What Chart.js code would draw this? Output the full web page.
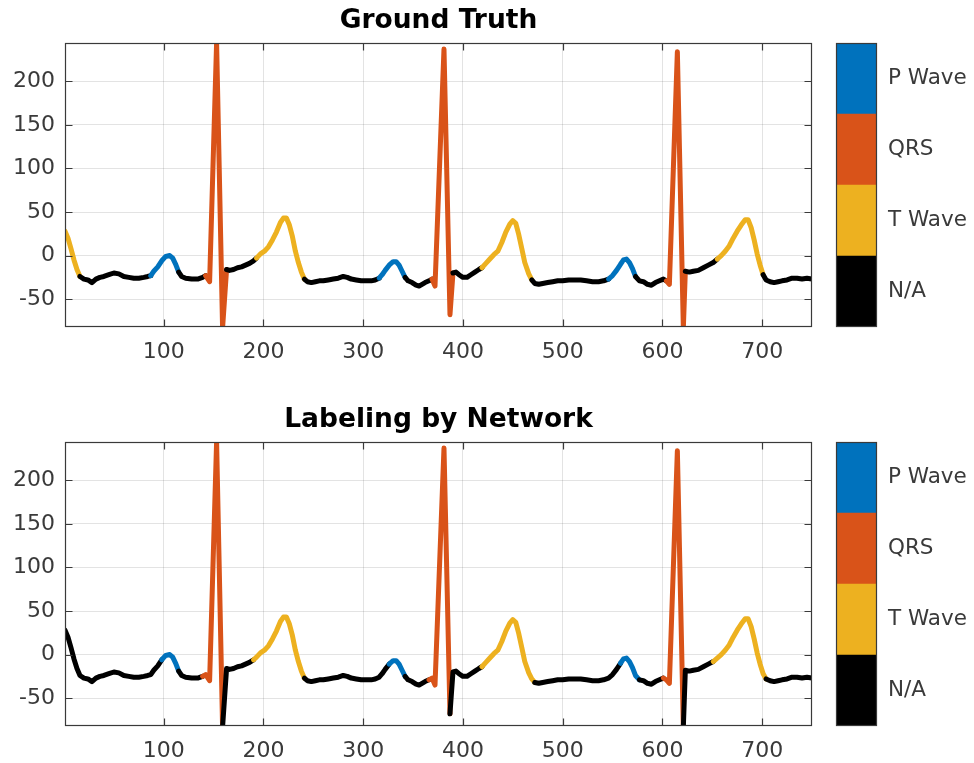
<!DOCTYPE html>
<html>
<head>
<meta charset="utf-8">
<script src="https://cdn.jsdelivr.net/npm/chart.js@4.4.0/dist/chart.umd.min.js"></script>
<style>
  html, body { margin: 0; padding: 0; background: #fff; overflow: hidden; }
  canvas { position: absolute; }
</style>
</head>
<body>
<canvas id="gt" width="830" height="370" style="left:0;top:0"></canvas>
<canvas id="gtBar" width="144" height="370" style="left:830px;top:0"></canvas>
<canvas id="net" width="830" height="370" style="left:0;top:399px"></canvas>
<canvas id="netBar" width="144" height="370" style="left:830px;top:399px"></canvas>
<script>
// axis ticks
const xTicks = [100, 200, 300, 400, 500, 600, 700];
const yTicks = [-50, 0, 50, 100, 150, 200];

// classes (colorbar top to bottom)
const classNames = ['P Wave', 'QRS', 'T Wave', 'N/A'];
const classColors = ['#0072BD', '#D95319', '#EDB120', '#000000'];

// ecg samples
const sampleX = [1, 4, 7, 10, 13, 16, 20, 24, 28, 32, 36, 40, 45, 50, 55, 60, 65, 70, 75, 80,
  84, 87, 90, 94, 98, 102, 106, 109, 112, 115, 118, 122, 128, 134, 139, 142, 146, 153, 159, 163,
  166, 170, 174, 178, 182, 186, 190, 193, 197, 201, 205, 209, 213, 217, 220, 223, 226, 229, 232, 235,
  238, 241, 244, 248, 252, 256, 260, 265, 270, 275, 280, 284, 288, 293, 298, 303, 308, 312, 316, 319,
  322, 326, 330, 333, 336, 339, 342, 345, 349, 353, 356, 359, 362, 366, 369, 372, 381, 387, 390, 393,
  396, 400, 404, 408, 412, 416, 419, 423, 427, 431, 435, 439, 443, 447, 450, 453, 456, 459, 462, 466,
  469, 472, 476, 480, 485, 490, 495, 500, 506, 512, 518, 524, 530, 536, 541, 546, 550, 554, 558, 561,
  564, 567, 570, 573, 577, 581, 585, 589, 593, 597, 601, 604, 607, 615, 621, 623, 627, 631, 636, 641,
  646, 651, 655, 659, 663, 667, 671, 675, 679, 683, 686, 689, 692, 695, 698, 701, 704, 708, 712, 716,
  720, 725, 730, 735, 740, 745, 750];
const ecgY = [28, 20, 8, -5, -16, -24, -27, -28, -31, -27, -25, -24, -22, -20, -21, -24, -25, -26, -26, -25,
  -24, -23, -18, -13, -6, -1, 0, -3, -10, -19, -24, -26, -27, -27, -25, -23, -30, 244, -83, -16,
  -17, -16, -14, -13, -11, -9, -6, -3, 2, 5, 10, 18, 27, 38, 43, 43, 35, 22, 5, -8,
  -19, -27, -30, -31, -30, -29, -29, -28, -27, -26, -24, -25, -27, -28, -29, -29, -29, -28, -26, -22,
  -17, -11, -7, -7, -11, -18, -25, -29, -31, -34, -35, -33, -31, -29, -27, -35, 237, -68, -20, -19,
  -22, -25, -25, -22, -19, -16, -14, -9, -4, 1, 5, 15, 27, 36, 40, 37, 24, 8, -8, -21,
  -28, -32, -33, -32, -31, -30, -29, -29, -28, -28, -28, -29, -30, -30, -29, -27, -23, -17, -10, -5,
  -4, -8, -15, -24, -29, -30, -33, -34, -31, -29, -27, -29, -33, 234, -83, -18, -19, -18, -17, -14,
  -11, -8, -4, 0, 5, 11, 20, 28, 35, 41, 41, 32, 18, 2, -11, -22, -28, -30, -31, -30,
  -29, -28, -26, -26, -27, -26, -27];

// label intervals: start sample + class index
const gtStarts = [1, 15, 87, 115, 143, 163, 193, 241, 316, 342, 368, 390, 418, 470, 547, 574, 603, 624, 655, 702];
const gtClass  = [2, 3, 0, 3, 1, 3, 2, 3, 0, 3, 1, 3, 2, 3, 0, 3, 1, 3, 2, 3];
const netStarts = [1, 97, 114, 139, 159, 191, 241, 326, 342, 367, 387, 419, 471, 559, 576, 601, 621, 651, 704];
const netClass  = [3, 0, 3, 1, 3, 2, 3, 0, 3, 1, 3, 2, 3, 0, 3, 1, 3, 2, 3];

Chart.defaults.font.family = '"DejaVu Sans", sans-serif';
Chart.defaults.color = '#3a3a3a';

const axisColor = '#3a3a3a';
const gridColor = 'rgba(38,38,38,0.13)';

// box round the plot area, with matlab style inward ticks
const framePlugin = {
  id: 'frame',
  afterDraw(chart, args, opts) {
    const { ctx, chartArea: a } = chart;
    ctx.save();
    ctx.strokeStyle = axisColor;
    ctx.lineWidth = 1.2;
    const l = Math.round(a.left) + 0.5, r = Math.round(a.right) - 0.5;
    const t = Math.round(a.top) + 0.5, b = Math.round(a.bottom) - 0.5;
    ctx.strokeRect(l, t, r - l, b - t);
    if (opts.ticks) {
      ctx.beginPath();
      xTicks.forEach(v => {
        const px = Math.round(chart.scales.x.getPixelForValue(v)) + 0.5;
        ctx.moveTo(px, b); ctx.lineTo(px, b - 7);
        ctx.moveTo(px, t); ctx.lineTo(px, t + 7);
      });
      yTicks.forEach(v => {
        const py = Math.round(chart.scales.y.getPixelForValue(v)) + 0.5;
        ctx.moveTo(l, py); ctx.lineTo(l + 7, py);
        ctx.moveTo(r, py); ctx.lineTo(r - 7, py);
      });
      ctx.stroke();
    }
    ctx.restore();
  }
};

const classAt = (starts, classes, x) => {
  let c = classes[0];
  for (let i = 0; i < starts.length; i++) {
    if (x >= starts[i]) c = classes[i];
  }
  return c;
};

const makeEcgChart = (id, title, starts, classes) => {
  const points = sampleX.map((x, i) => ({ x: x, y: ecgY[i] }));
  return new Chart(document.getElementById(id), {
    type: 'line',
    data: {
      datasets: [{
        data: points,
        borderColor: '#000',
        borderWidth: 5,
        borderCapStyle: 'round',
        borderJoinStyle: 'round',
        pointRadius: 0,
        tension: 0,
        clip: 0,
        segment: {
          borderColor: ctx => {
            const mid = (ctx.p0.parsed.x + ctx.p1.parsed.x) / 2;
            return classColors[classAt(starts, classes, mid)];
          }
        }
      }]
    },
    options: {
      responsive: false,
      animation: false,
      layout: { padding: { left: 0, right: 18, top: 0, bottom: 0 } },
      plugins: {
        legend: { display: false },
        tooltip: { enabled: false },
        title: {
          display: true,
          text: title,
          fullSize: false,
          color: '#000',
          font: { size: 26.5, weight: 'bold', lineHeight: 1.2 },
          padding: { top: 5, bottom: 6.2 }
        },
        frame: { ticks: true }
      },
      scales: {
        x: {
          type: 'linear',
          min: 1,
          max: 750,
          afterBuildTicks: s => { s.ticks = xTicks.map(v => ({ value: v })); },
          afterFit: s => { s.height = 43; },
          ticks: { font: { size: 22 }, padding: 12, maxRotation: 0 },
          grid: { color: gridColor, drawTicks: false },
          border: { display: false }
        },
        y: {
          min: -82,
          max: 244,
          afterBuildTicks: s => { s.ticks = yTicks.map(v => ({ value: v })); },
          afterFit: s => { s.width = 65; },
          ticks: { font: { size: 22 }, padding: 10 },
          grid: { color: gridColor, drawTicks: false },
          border: { display: false }
        }
      }
    },
    plugins: [framePlugin]
  });
};

const makeColorbar = id => {
  // bottom to top so the stack reads P Wave at the top
  const order = [3, 2, 1, 0];
  return new Chart(document.getElementById(id), {
    type: 'bar',
    data: {
      labels: [''],
      datasets: order.map(k => ({
        label: classNames[k],
        data: [1],
        backgroundColor: classColors[k],
        borderWidth: 0,
        barPercentage: 1,
        categoryPercentage: 1
      }))
    },
    options: {
      responsive: false,
      animation: false,
      layout: { padding: { left: 6, right: 0, top: 43, bottom: 43 } },
      plugins: {
        legend: { display: false },
        tooltip: { enabled: false },
        frame: { ticks: false }
      },
      scales: {
        x: { stacked: true, display: false },
        y: {
          stacked: true,
          position: 'right',
          min: 0,
          max: 4,
          afterBuildTicks: s => { s.ticks = order.map((k, i) => ({ value: i + 0.5 })); },
          afterFit: s => { s.width = 97; },
          ticks: {
            font: { size: 21.5 },
            padding: 11,
            callback: v => classNames[order[Math.floor(v)]]
          },
          grid: { display: false, drawTicks: false },
          border: { display: false }
        }
      }
    },
    plugins: [framePlugin]
  });
};

makeEcgChart('gt', 'Ground Truth', gtStarts, gtClass);
makeColorbar('gtBar');
makeEcgChart('net', 'Labeling by Network', netStarts, netClass);
makeColorbar('netBar');
</script>
</body>
</html>
